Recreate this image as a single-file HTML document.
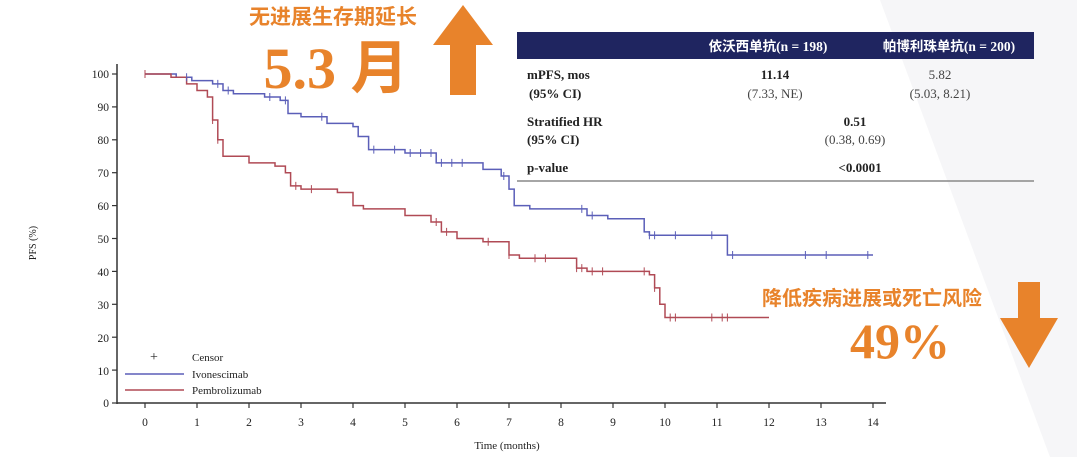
<!DOCTYPE html>
<html><head><meta charset="utf-8"><style>
html,body{margin:0;padding:0;background:#fff;}
body{width:1077px;height:457px;position:relative;overflow:hidden;font-family:"Liberation Serif",serif;}
</style></head><body>
<svg width="1077" height="457" viewBox="0 0 1077 457" xmlns="http://www.w3.org/2000/svg" style="position:absolute;left:0;top:0">
<polygon points="880,0 1077,0 1077,457 1050,457" fill="#f6f6f8"/>
<!-- axes -->
<g stroke="#333" stroke-width="1.5" fill="none">
<line x1="117" y1="64" x2="117" y2="404"/>
<line x1="117" y1="403" x2="886" y2="403"/>
</g>
<g id="yt" stroke="#333" stroke-width="1.2"></g>
<g id="xt" stroke="#333" stroke-width="1.2"></g>
<g font-size="11.5" fill="#222" text-anchor="end" font-family="Liberation Serif,serif">
<text x="109" y="78">100</text><text x="109" y="111">90</text><text x="109" y="144">80</text><text x="109" y="177">70</text><text x="109" y="210">60</text><text x="109" y="243">50</text><text x="109" y="276">40</text><text x="109" y="309">30</text><text x="109" y="342">20</text><text x="109" y="375">10</text><text x="109" y="407">0</text>
</g>
<g font-size="11.5" fill="#222" text-anchor="middle" font-family="Liberation Serif,serif">
<text x="145" y="426">0</text><text x="197" y="426">1</text><text x="249" y="426">2</text><text x="301" y="426">3</text><text x="353" y="426">4</text><text x="405" y="426">5</text><text x="457" y="426">6</text><text x="509" y="426">7</text><text x="561" y="426">8</text><text x="613" y="426">9</text><text x="665" y="426">10</text><text x="717" y="426">11</text><text x="769" y="426">12</text><text x="821" y="426">13</text><text x="873" y="426">14</text>
<text x="507" y="449" font-size="11">Time (months)</text>
</g>
<text x="0" y="0" font-size="10" fill="#222" transform="translate(36,243) rotate(-90)" text-anchor="middle">PFS (%)</text>
<!-- legend -->
<g font-size="11" fill="#222">
<text x="154" y="361" font-size="14" text-anchor="middle">+</text>
<text x="192" y="361">Censor</text>
<line x1="125" y1="374" x2="184" y2="374" stroke="#5b5fb8" stroke-width="1.5"/>
<text x="192" y="378">Ivonescimab</text>
<line x1="125" y1="390" x2="184" y2="390" stroke="#b04a55" stroke-width="1.5"/>
<text x="192" y="394">Pembrolizumab</text>
</g>
<path id="blue" fill="none" stroke="#5b5fb8" stroke-width="1.5"/>
<path id="red" fill="none" stroke="#b04a55" stroke-width="1.5"/>
<path id="bc" fill="none" stroke="#5b5fb8" stroke-width="1"/>
<path id="rc" fill="none" stroke="#b04a55" stroke-width="1"/>
<!-- table -->
<rect x="517" y="32" width="517" height="27" fill="#1f2560"/>
<g font-size="13.5" font-weight="bold" fill="#fff" text-anchor="middle" style="font-family:'Liberation Serif','Noto Sans CJK SC',serif">
<text x="768" y="51">依沃西单抗(n = 198)</text>
<text x="949" y="51">帕博利珠单抗(n = 200)</text>
</g>
<g font-size="13" fill="#222">
<text x="527" y="79" font-weight="bold">mPFS, mos</text>
<text x="529" y="98" font-weight="bold">(95% CI)</text>
<text x="775" y="79" font-weight="bold" text-anchor="middle">11.14</text>
<text x="775" y="98" text-anchor="middle" fill="#444">(7.33, NE)</text>
<text x="940" y="79" text-anchor="middle" fill="#444">5.82</text>
<text x="940" y="98" text-anchor="middle" fill="#444">(5.03, 8.21)</text>
<text x="527" y="126" font-weight="bold">Stratified HR</text>
<text x="527" y="144" font-weight="bold">(95% CI)</text>
<text x="855" y="126" font-weight="bold" text-anchor="middle">0.51</text>
<text x="855" y="144" text-anchor="middle" fill="#444">(0.38, 0.69)</text>
<text x="527" y="172" font-weight="bold">p-value</text>
<text x="860" y="172" font-weight="bold" text-anchor="middle">&lt;0.0001</text>
</g>
<line x1="517" y1="181" x2="1034" y2="181" stroke="#888" stroke-width="1.5"/>
<!-- callouts -->
<text x="333" y="24" font-size="21" font-weight="bold" fill="#e8832b" text-anchor="middle" style="font-family:'Noto Sans CJK SC',sans-serif">无进展生存期延长</text>
<text x="336" y="88" font-size="58" font-weight="bold" fill="#e8832b" text-anchor="middle" style="font-family:'Liberation Serif','Noto Sans CJK SC',serif">5.3 月</text>
<polygon points="463,5 493,45 476,45 476,95 450,95 450,45 433,45" fill="#e8832b"/>
<text x="872" y="305" font-size="20" font-weight="bold" fill="#e8832b" text-anchor="middle" style="font-family:'Noto Sans CJK SC',sans-serif">降低疾病进展或死亡风险</text>
<text x="900" y="358" font-size="50" font-weight="bold" fill="#e8832b" text-anchor="middle">49%</text>
<polygon points="1018,282 1040,282 1040,318 1058,318 1029,368 1000,318 1018,318" fill="#e8832b"/>
</svg>
<script>
const X=m=>145+m*52, Y=v=>403-v*3.29;
function step(d){let s='M'+X(d[0][0])+' '+Y(d[0][1]);for(let i=1;i<d.length;i++){s+=' H'+X(d[i][0])+' V'+Y(d[i][1]);}return s;}
const blue=[[0,100],[0.6,99],[0.9,98],[1.3,97],[1.5,95],[1.7,94],[2.3,93],[2.6,92],[2.75,88],[3,87],[3.5,85],[4,84],[4.1,81],[4.3,77],[5,76],[5.6,73],[6.5,71],[6.85,69],[7,65],[7.1,60],[7.4,59],[8.5,57],[8.9,56],[9.6,52],[9.7,51],[11.15,51],[11.2,45],[14,45]];
const red=[[0,100],[0.5,99],[0.8,97],[1,95],[1.2,93],[1.3,86],[1.4,80],[1.5,75],[2,73],[2.5,72],[2.7,70],[2.8,66],[3,65],[3.7,64],[4,60],[4.2,59],[5,57],[5.5,55],[5.7,52],[6,50],[6.5,49],[7,45],[7.2,44],[8.15,44],[8.3,41],[8.5,40],[9.7,39],[9.8,35],[9.9,30],[10,26],[12,26]];
document.getElementById('blue').setAttribute('d',step(blue));
document.getElementById('red').setAttribute('d',step(red));
function val(d,m){let v=d[0][1];for(const p of d){if(p[0]<=m)v=p[1];}return v;}
function cens(d,ms){return ms.map(m=>{const x=X(m),y=Y(val(d,m));return 'M'+x+' '+(y-4)+' V'+(y+4);}).join(' ');}
document.getElementById('bc').setAttribute('d',cens(blue,[0,0.8,1.4,1.6,2.4,2.7,3.4,4.4,4.8,5.1,5.3,5.5,5.7,5.9,6.1,6.9,8.4,8.6,9.7,9.8,10.2,10.9,11.3,12.7,13.1,13.9]));
document.getElementById('rc').setAttribute('d',cens(red,[0,1.3,1.4,2.9,3.2,5.6,5.8,6.6,7.0,7.5,7.7,8.3,8.4,8.6,8.8,9.6,9.8,10.1,10.2,10.9,11.1,11.2]));
let yt='';for(let v=0;v<=100;v+=10)yt+=`<line x1="112" y1="${Y(v)}" x2="117" y2="${Y(v)}"/>`;
document.getElementById('yt').innerHTML=yt;
let xt='';for(let m=0;m<=14;m++)xt+=`<line x1="${X(m)}" y1="403" x2="${X(m)}" y2="408"/>`;
document.getElementById('xt').innerHTML=xt;
</script>
</body></html>
